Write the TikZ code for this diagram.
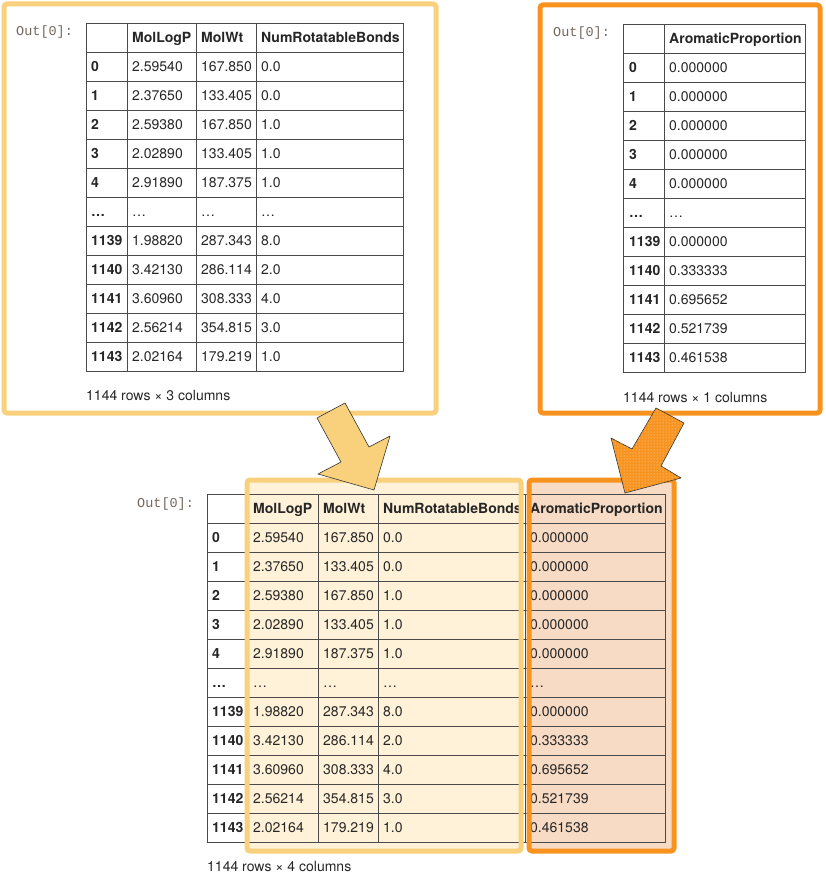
\documentclass[tikz,border=0pt]{standalone}
\usepackage{fontspec}
\setmainfont{TeX Gyre Heros}
\setmonofont{Liberation Mono}
\usetikzlibrary{patterns}

\definecolor{ylw}{HTML}{F9D07C}
\definecolor{org}{HTML}{F7931E}
\definecolor{ylwfill}{HTML}{FFF2D8}
\definecolor{orgfill}{HTML}{F8DBC5}
\definecolor{gridc}{HTML}{4A4A4A}
\definecolor{promptc}{HTML}{74685C}

\tikzset{
  cell/.style={anchor=base west, inner sep=0pt, text=black!85, font=\fontsize{14}{16}\selectfont},
  head/.style={cell, font=\fontsize{14}{16}\selectfont\bfseries},
  prompt/.style={anchor=west, inner sep=0pt, text=promptc, font=\ttfamily\fontsize{13.5}{15}\selectfont},
  gridline/.style={draw=gridc, line width=0.8pt},
  frame/.style={line width=5pt, rounded corners=3pt},
  blockarrow/.style={draw=black!80, line width=0.6pt, line join=round}
}

\begin{document}
\begin{tikzpicture}[x=1pt, y=-1pt]
            \useasboundingbox (0,0) rectangle (825,882);

            % oben links
            \node[prompt] (outA) at (16,32) {Out[0]:};
            \draw[gridline] (86,23) rectangle (403,371);
            \foreach \x in {127,196,256} \draw[gridline] (\x,23) -- (\x,371);
            \foreach \r in {0,...,10} \draw[gridline] (86,{52+29*\r}) -- (403,{52+29*\r});
            \node[head] (hA1) at (132,42.5) {MolLogP};
            \node[head] (hA2) at (201,42.5) {MolWt};
            \node[head] (hA3) at (261,42.5) {NumRotatableBonds};
            \foreach \i/\a/\b/\c [count=\r from 0] in {0/2.59540/167.850/0.0, 1/2.37650/133.405/0.0,
              2/2.59380/167.850/1.0, 3/2.02890/133.405/1.0, 4/2.91890/187.375/1.0, \dots/\dots/\dots/\dots,
              1139/1.98820/287.343/8.0, 1140/3.42130/286.114/2.0, 1141/3.60960/308.333/4.0,
              1142/2.56214/354.815/3.0, 1143/2.02164/179.219/1.0}
            {
              \node[head] (iA\r) at (91,{71.5+29*\r}) {\i};
              \node[cell] (aA\r) at (132,{71.5+29*\r}) {\a};
              \node[cell] (bA\r) at (201,{71.5+29*\r}) {\b};
              \node[cell] (cA\r) at (261,{71.5+29*\r}) {\c};
            }
            \node[cell] (sizeA) at (86,400) {1144 rows × 3 columns};
            \draw[frame, draw=ylw] (4,4) rectangle (436,413);

            % oben rechts
            \node[prompt] (outB) at (553,33) {Out[0]:};
            \draw[gridline] (623,24) rectangle (805,372);
            \draw[gridline] (664,24) -- (664,372);
            \foreach \r in {0,...,10} \draw[gridline] (623,{53+29*\r}) -- (805,{53+29*\r});
            \node[head] (hB1) at (669,43.5) {AromaticProportion};
            \foreach \i/\d [count=\r from 0] in {0/0.000000, 1/0.000000, 2/0.000000, 3/0.000000,
              4/0.000000, \dots/\dots, 1139/0.000000, 1140/0.333333, 1141/0.695652,
              1142/0.521739, 1143/0.461538}
            {
              \node[head] (iB\r) at (629,{72.5+29*\r}) {\i};
              \node[cell] (dB\r) at (669,{72.5+29*\r}) {\d};
            }
            \node[cell] (sizeB) at (623,402) {1144 rows × 1 columns};
            \draw[frame, draw=org] (540,5) rectangle (820,413);

            % unten
            \fill[ylwfill] (247,480) rectangle (521,851);
            \fill[orgfill] (529,480) rectangle (674,851);
            \node[prompt] (outC) at (137,504) {Out[0]:};
            \draw[gridline] (207,494) rectangle (665,842);
            \foreach \x in {247,318,378,525} \draw[gridline] (\x,494) -- (\x,842);
            \foreach \r in {0,...,10} \draw[gridline] (207,{523+29*\r}) -- (665,{523+29*\r});
            \node[head] (hC1) at (253,513.5) {MolLogP};
            \node[head] (hC2) at (323,513.5) {MolWt};
            \node[head] (hC3) at (383,513.5) {NumRotatableBonds};
            \node[head] (hC4) at (530,513.5) {AromaticProportion};
            \foreach \i/\a/\b/\c/\d [count=\r from 0] in {0/2.59540/167.850/0.0/0.000000,
              1/2.37650/133.405/0.0/0.000000, 2/2.59380/167.850/1.0/0.000000,
              3/2.02890/133.405/1.0/0.000000, 4/2.91890/187.375/1.0/0.000000,
              \dots/\dots/\dots/\dots/\dots, 1139/1.98820/287.343/8.0/0.000000,
              1140/3.42130/286.114/2.0/0.333333, 1141/3.60960/308.333/4.0/0.695652,
              1142/2.56214/354.815/3.0/0.521739, 1143/2.02164/179.219/1.0/0.461538}
            {
              \node[head] (iC\r) at (212,{542.5+29*\r}) {\i};
              \node[cell] (aC\r) at (253,{542.5+29*\r}) {\a};
              \node[cell] (bC\r) at (323,{542.5+29*\r}) {\b};
              \node[cell] (cC\r) at (383,{542.5+29*\r}) {\c};
              \node[cell] (dC\r) at (530,{542.5+29*\r}) {\d};
            }
            \node[cell] (sizeC) at (207,871) {1144 rows × 4 columns};
            \draw[frame, draw=ylw] (247,480) rectangle (521,851);
            \draw[frame, draw=org] (529,480) rectangle (674,851);

            % Pfeile
            \draw[blockarrow, fill=ylw] (345,403) -- (369,447) -- (390,436) -- (374,490)
              -- (318,474) -- (341,462) -- (317,418) -- cycle;
            \draw[blockarrow, fill=org] (656,408) -- (684,423) -- (661,466) -- (681,478)
              -- (625,493) -- (611,438) -- (632,449) -- cycle;
            \fill[pattern=dots, pattern color=white!80!org] (656,408) -- (684,423) -- (661,466)
              -- (681,478) -- (625,493) -- (611,438) -- (632,449) -- cycle;
        \end{tikzpicture}
\end{document}
